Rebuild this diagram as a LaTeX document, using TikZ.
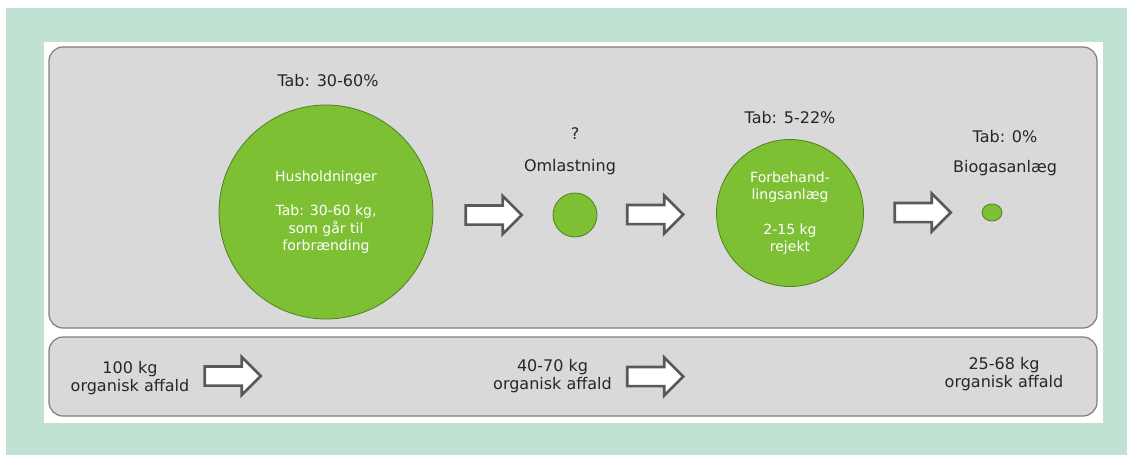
\documentclass[tikz,border=0pt]{standalone}
\usepackage{fontspec}
\setmainfont{DejaVu Sans}
\usetikzlibrary{shapes.arrows,shapes.geometric}
\definecolor{mint}{HTML}{BFE2D2}
\definecolor{panel}{HTML}{D9D9D9}
\definecolor{panelline}{HTML}{7F7F7F}
\definecolor{leaf}{HTML}{7DC033}
\definecolor{leafline}{HTML}{527F24}
\definecolor{ink}{HTML}{262626}
\definecolor{arrowline}{HTML}{595959}

\begin{document}
\begin{tikzpicture}[x=1pt,y=-1pt,
  panelbox/.style={draw=panelline,line width=1.2pt,fill=panel,rounded corners=14pt},
  stage/.style={circle,draw=leafline,line width=0.8pt,fill=leaf,inner sep=0pt,
    text=white,align=center,font=\fontsize{14}{17.3}\selectfont},
  lbl/.style={text=ink,font=\fontsize{16}{18}\selectfont,inner sep=0pt,anchor=base},
  flow/.style={text=ink,align=center,font=\fontsize{16}{18}\selectfont,inner sep=0pt},
  blockarrow/.style={single arrow,draw=arrowline,line width=2.6pt,fill=white,
    inner sep=0pt,text height=16.5pt,text depth=0pt,text width=0pt,
    minimum height=56pt,single arrow head extend=9.5pt,single arrow tip angle=90}
]
\useasboundingbox (0,0) rectangle (1127,455);

% backdrop and frame
\fill[white] (0,0) rectangle (1127,455);
\fill[mint] (6,8) rectangle (1127,455);
\fill[white] (44,42) rectangle (1103,423);

% the two panels
\draw[panelbox] (49,47) rectangle (1097,328);
\draw[panelbox] (49,337) rectangle (1097,416);

% stages
\node[stage,minimum size=214pt] (hus) at (326,212)
  {Husholdninger\\[17.3pt]Tab: 30-60 kg,\\som går til\\forbrænding};
\node[stage,minimum size=44pt] (oml) at (575,215) {};
\node[stage,minimum size=147pt] (forb) at (790,213)
  {Forbehand-\\lingsanlæg\\[17.3pt]2-15 kg\\rejekt};
\node[ellipse,draw=leafline,line width=0.8pt,fill=leaf,inner sep=0pt,
  minimum width=20pt,minimum height=17pt] (bio) at (992,212.5) {};

% labels above the stages
\node[lbl] (tabhus) at (328,86) {Tab: 30-60\%};
\node[lbl] (q) at (575,139) {?};
\node[lbl] (omltxt) at (570,171) {Omlastning};
\node[lbl] (tabforb) at (790,123) {Tab: 5-22\%};
\node[lbl] (tabbio) at (1005,142.5) {Tab: 0\%};
\node[lbl] (biotxt) at (1005,172) {Biogasanlæg};

% block arrows between stages
\node[blockarrow] (a1) at (489,215) {};
\node[blockarrow] (a2) at (650.5,214.5) {};
\node[blockarrow] (a3) at (918,212.5) {};

% mass flow along the bottom panel
\node[flow] (m1) at (130,378) {100 kg\\organisk affald};
\node[flow] (m2) at (552.5,376) {40-70 kg\\organisk affald};
\node[flow] (m3) at (1004,374) {25-68 kg\\organisk affald};
\node[blockarrow] (b1) at (228,376) {};
\node[blockarrow] (b2) at (650.5,376.5) {};
\end{tikzpicture}
\end{document}
